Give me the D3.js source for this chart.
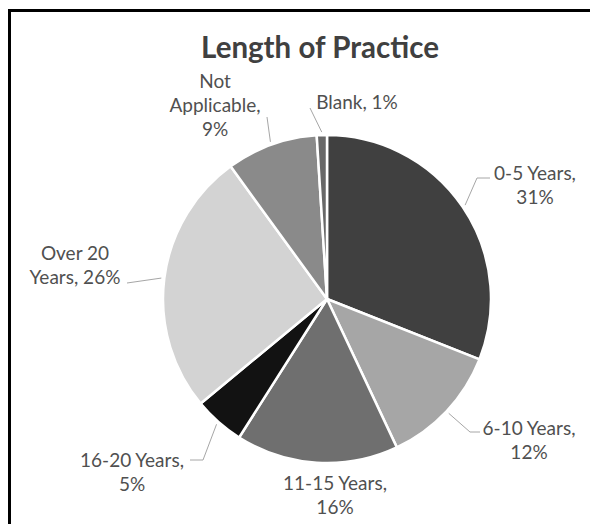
<!DOCTYPE html>
<html>
<head>
    <meta charset="utf-8">
    <title>Length of Practice</title>
    <script src="https://cdnjs.cloudflare.com/ajax/libs/d3/7.8.5/d3.min.js"></script>
    <style>
        body { margin: 0; background: #fff; }
        text { font-family: Lato, "Open Sans", sans-serif; }
    </style>
</head>
<body>
<script>
    var categories = ["0-5 Years", "6-10 Years", "11-15 Years", "16-20 Years", "Over 20 Years", "Not Applicable", "Blank"];
    var values = [31, 12, 16, 5, 26, 9, 1];
    var colors = ["#404040", "#a6a6a6", "#6f6f6f", "#121212", "#d3d3d3", "#8a8a8a", "#686868"];

    // label layout: text lines, anchor point, leader bend points
    var labelLines = [
        ["0-5 Years,", "31%"],
        ["6-10 Years,", "12%"],
        ["11-15 Years,", "16%"],
        ["16-20 Years,", "5%"],
        ["Over 20", "Years, 26%"],
        ["Not", "Applicable,", "9%"],
        ["Blank, 1%"]
    ];
    var labelPos = [[535, 180], [529, 435], [335, 490], [132, 467], [75, 260], [215, 88], [357, 109]];
    var leaders = [
        [[477, 178], [490, 178]],
        [[470, 432], [480, 432]],
        null,
        [[203, 460], [190, 460]],
        [[127, 283]],
        [[267, 117]],
        [[310, 108]]
    ];

    var w = 590, h = 524;
    var cx = 327, cy = 299, r = 164;

    var svg = d3.select("body").append("svg")
        .attr("width", w)
        .attr("height", h);

    // frame
    svg.append("path")
        .attr("d", "M9.5," + h + "V10.5H" + w)
        .attr("fill", "none")
        .attr("stroke", "#000")
        .attr("stroke-width", 3);

    svg.append("text")
        .attr("x", 320)
        .attr("y", 58)
        .attr("text-anchor", "middle")
        .attr("font-size", 29.5)
        .attr("font-weight", "bold")
        .attr("fill", "#404040")
        .text("Length of Practice");

    var pie = d3.pie().sort(null).value(function(d) { return d; });
    var arcs = pie(values);

    var arc = d3.arc().innerRadius(0).outerRadius(r);
    var edge = d3.arc().innerRadius(r + 3).outerRadius(r + 3);

    var g = svg.append("g").attr("transform", "translate(" + cx + "," + cy + ")");

    g.selectAll("path.slice")
        .data(arcs)
        .enter().append("path")
        .attr("class", "slice")
        .attr("d", arc)
        .attr("fill", function(d, i) { return colors[i]; })
        .attr("stroke", "#fff")
        .attr("stroke-width", 2.5)
        .attr("stroke-linejoin", "round");

    // leader lines
    var line = d3.line();
    arcs.forEach(function(d, i) {
        if (!leaders[i]) return;
        var c = edge.centroid(d);
        var pts = [[c[0] + cx, c[1] + cy]].concat(leaders[i]);
        svg.append("path")
            .attr("d", line(pts))
            .attr("fill", "none")
            .attr("stroke", "#a6a6a6")
            .attr("stroke-width", 1);
    });

    // labels
    labelLines.forEach(function(lines, i) {
        var t = svg.append("text")
            .attr("x", labelPos[i][0])
            .attr("y", labelPos[i][1])
            .attr("text-anchor", "middle")
            .attr("font-size", 19)
            .attr("fill", "#505050");
        lines.forEach(function(s, j) {
            t.append("tspan")
                .attr("x", labelPos[i][0])
                .attr("dy", j === 0 ? 0 : 24)
                .text(s);
        });
    });
</script>
</body>
</html>
